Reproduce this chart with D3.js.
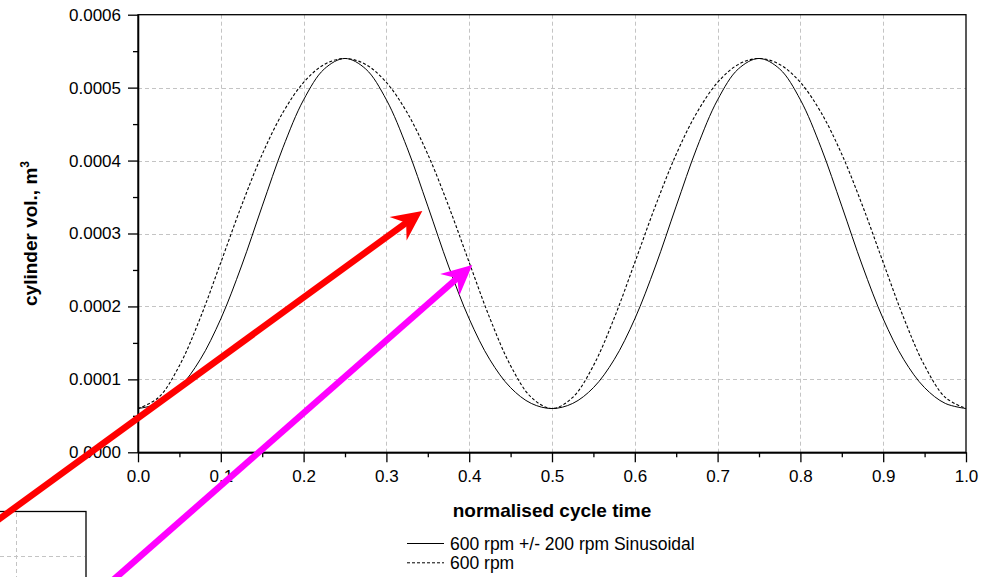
<!DOCTYPE html>
<html>
<head>
<meta charset="utf-8">
<script src="https://cdn.jsdelivr.net/npm/d3@7/dist/d3.min.js"></script>
<style>
  html, body { margin: 0; padding: 0; background: #fff; }
  svg { display: block; }
  text { font-family: "Liberation Sans", Arial, Helvetica, sans-serif; fill: #000; }
</style>
</head>
<body>
<svg id="chart" width="986" height="577"></svg>
<script>
// normalised cycle time samples
const cycleTime = [
  0.000, 0.025, 0.050, 0.075, 0.100, 0.125, 0.150, 0.175, 0.200, 0.225,
  0.250, 0.275, 0.300, 0.325, 0.350, 0.375, 0.400, 0.425, 0.450, 0.475,
  0.500, 0.525, 0.550, 0.575, 0.600, 0.625, 0.650, 0.675, 0.700, 0.725,
  0.750, 0.775, 0.800, 0.825, 0.850, 0.875, 0.900, 0.925, 0.950, 0.975, 1.000
];

// cylinder volume (m^3), 600 rpm +/- 200 rpm sinusoidal speed
const volVarying = [
  0.0000600, 0.0000670, 0.0000886, 0.0001269, 0.0001830, 0.0002554, 0.0003375, 0.0004176, 0.0004833, 0.0005256,
  0.0005400, 0.0005256, 0.0004833, 0.0004176, 0.0003375, 0.0002554, 0.0001830, 0.0001269, 0.0000886, 0.0000670,
  0.0000600, 0.0000670, 0.0000886, 0.0001269, 0.0001830, 0.0002554, 0.0003375, 0.0004176, 0.0004833, 0.0005256,
  0.0005400, 0.0005256, 0.0004833, 0.0004176, 0.0003375, 0.0002554, 0.0001830, 0.0001269, 0.0000886, 0.0000670,
  0.0000600
];

// cylinder volume (m^3), constant 600 rpm
const volConstant = [
  0.0000600, 0.0000753, 0.0001188, 0.0001837, 0.0002603, 0.0003381, 0.0004086, 0.0004658, 0.0005071, 0.0005318,
  0.0005400, 0.0005318, 0.0005071, 0.0004658, 0.0004086, 0.0003381, 0.0002603, 0.0001837, 0.0001188, 0.0000753,
  0.0000600, 0.0000753, 0.0001188, 0.0001837, 0.0002603, 0.0003381, 0.0004086, 0.0004658, 0.0005071, 0.0005318,
  0.0005400, 0.0005318, 0.0005071, 0.0004658, 0.0004086, 0.0003381, 0.0002603, 0.0001837, 0.0001188, 0.0000753,
  0.0000600
];

const xTicks = [0, 0.1, 0.2, 0.3, 0.4, 0.5, 0.6, 0.7, 0.8, 0.9, 1.0];
const xMinorTicks = [0.05, 0.15, 0.25, 0.35, 0.45, 0.55, 0.65, 0.75, 0.85, 0.95];
const yTicks = [0, 0.0001, 0.0002, 0.0003, 0.0004, 0.0005, 0.0006];
const yMinorTicks = [0.00005, 0.00015, 0.00025, 0.00035, 0.00045, 0.00055];

const seriesNames = ["600 rpm +/- 200 rpm Sinusoidal", "600 rpm"];

// annotation arrows, [tail, tip] in data units
const redArrow = [[-0.19, -0.000110], [0.3434, 0.0003308]];
const magentaArrow = [[-0.058, -0.000203], [0.4037, 0.0002568]];

const svg = d3.select("#chart");
const plotLeft = 138, plotRight = 966, plotTop = 14.7, plotBottom = 452.3;

const x = d3.scaleLinear().domain([0, 1]).range([plotLeft, plotRight]);
const y = d3.scaleLinear().domain([0, 0.0006]).range([plotBottom, plotTop]);

// grid
const grid = svg.append("g").attr("stroke", "#c4c4c4").attr("stroke-width", 1)
  .attr("stroke-dasharray", "4,3").attr("fill", "none");
grid.selectAll("line.v").data(xTicks.filter(d => d > 0 && d < 1)).join("line")
  .attr("class", "v")
  .attr("x1", d => Math.round(x(d)) + 0.5).attr("x2", d => Math.round(x(d)) + 0.5)
  .attr("y1", plotTop).attr("y2", plotBottom);
grid.selectAll("line.h").data(yTicks.filter(d => d > 0 && d < 0.0006)).join("line")
  .attr("class", "h")
  .attr("y1", d => Math.round(y(d)) + 0.5).attr("y2", d => Math.round(y(d)) + 0.5)
  .attr("x1", plotLeft).attr("x2", plotRight);

// small inset frame at lower left
const inset = svg.append("g");
inset.append("line").attr("x1", 16.5).attr("x2", 16.5).attr("y1", 513).attr("y2", 577)
  .attr("stroke", "#c4c4c4").attr("stroke-dasharray", "4,3");
inset.append("line").attr("x1", 0).attr("x2", 85).attr("y1", 556.5).attr("y2", 556.5)
  .attr("stroke", "#c4c4c4").attr("stroke-dasharray", "4,3");
inset.append("rect").attr("x", -10).attr("y", 511.5).attr("width", 96).attr("height", 100)
  .attr("fill", "none").attr("stroke", "#000").attr("stroke-width", 1.3);

// curves
const rows = cycleTime.map((t, i) => ({ t, a: volVarying[i], b: volConstant[i] }));
const lineA = d3.line().x(d => x(d.t)).y(d => y(d.a)).curve(d3.curveCatmullRom.alpha(0.5));
const lineB = d3.line().x(d => x(d.t)).y(d => y(d.b)).curve(d3.curveCatmullRom.alpha(0.5));
svg.append("path").datum(rows).attr("d", lineB).attr("fill", "none")
  .attr("stroke", "#000").attr("stroke-width", 1.1).attr("stroke-dasharray", "3,2");
svg.append("path").datum(rows).attr("d", lineA).attr("fill", "none")
  .attr("stroke", "#000").attr("stroke-width", 1);

// frame
svg.append("rect").attr("x", plotLeft).attr("y", plotTop)
  .attr("width", plotRight - plotLeft).attr("height", plotBottom - plotTop)
  .attr("fill", "none").attr("stroke", "#000").attr("stroke-width", 1.3);

// axes
const fmtY = d3.format(".4f"), fmtX = d3.format(".1f");
const yAxis = svg.append("g").attr("transform", `translate(${plotLeft},0)`)
  .call(d3.axisLeft(y).tickValues(yTicks).tickFormat(fmtY).tickSize(10).tickSizeOuter(0).tickPadding(7));
const yMinor = svg.append("g").attr("transform", `translate(${plotLeft},0)`)
  .call(d3.axisLeft(y).tickValues(yMinorTicks).tickFormat("").tickSize(5).tickSizeOuter(0));
const xAxis = svg.append("g").attr("transform", `translate(0,${plotBottom})`)
  .call(d3.axisBottom(x).tickValues(xTicks).tickFormat(fmtX).tickSize(10).tickSizeOuter(0).tickPadding(8));
const xMinor = svg.append("g").attr("transform", `translate(0,${plotBottom})`)
  .call(d3.axisBottom(x).tickValues(xMinorTicks).tickFormat("").tickSize(5).tickSizeOuter(0));
[yAxis, yMinor, xAxis, xMinor].forEach(g => {
  g.select(".domain").attr("stroke", "#000").attr("stroke-width", 1.3);
  g.selectAll(".tick line").attr("stroke", "#000").attr("stroke-width", 1.3);
  g.selectAll(".tick text").attr("font-family", "Liberation Sans, Arial, sans-serif")
    .attr("font-size", 17).attr("fill", "#000");
});

// axis titles
svg.append("text").attr("x", (plotLeft + plotRight) / 2).attr("y", 517)
  .attr("text-anchor", "middle").attr("font-size", 19).attr("font-weight", "bold")
  .text("normalised cycle time");
const yTitle = svg.append("text")
  .attr("transform", `translate(37,${(plotTop + plotBottom) / 2}) rotate(-90)`)
  .attr("text-anchor", "middle").attr("font-size", 19).attr("font-weight", "bold");
yTitle.append("tspan").text("cylinder vol., m");
yTitle.append("tspan").attr("font-size", 12).attr("dy", -8).text("3");

// legend
const legend = svg.append("g");
seriesNames.forEach((name, i) => {
  const ly = 543.5 + i * 19.3;
  legend.append("line").attr("x1", 407).attr("x2", 444).attr("y1", ly).attr("y2", ly)
    .attr("stroke", "#000").attr("stroke-width", 1)
    .attr("stroke-dasharray", i === 1 ? "3,2" : null);
  legend.append("text").attr("x", 450).attr("y", ly + 6).attr("font-size", 17.5).text(name);
});

// annotation arrows
function drawArrow(pts, color) {
  const [x0, y0] = [x(pts[0][0]), y(pts[0][1])];
  const [x1, y1] = [x(pts[1][0]), y(pts[1][1])];
  const ang = Math.atan2(y1 - y0, x1 - x0);
  const ux = Math.cos(ang), uy = Math.sin(ang), nx = -uy, ny = ux;
  const len = 30, half = 14.5, notch = 20;
  const bx = x1 - ux * notch, by = y1 - uy * notch;
  const g = svg.append("g");
  g.append("line").attr("x1", x0).attr("y1", y0).attr("x2", bx + ux * 2).attr("y2", by + uy * 2)
    .attr("stroke", color).attr("stroke-width", 6.5);
  const head = [
    [x1, y1],
    [x1 - ux * len + nx * half, y1 - uy * len + ny * half],
    [bx, by],
    [x1 - ux * len - nx * half, y1 - uy * len - ny * half]
  ];
  g.append("path").attr("d", "M" + head.map(p => p.join(",")).join("L") + "Z").attr("fill", color);
}
drawArrow(redArrow, "#ff0000");
drawArrow(magentaArrow, "#ff00ff");
</script>
</body>
</html>
